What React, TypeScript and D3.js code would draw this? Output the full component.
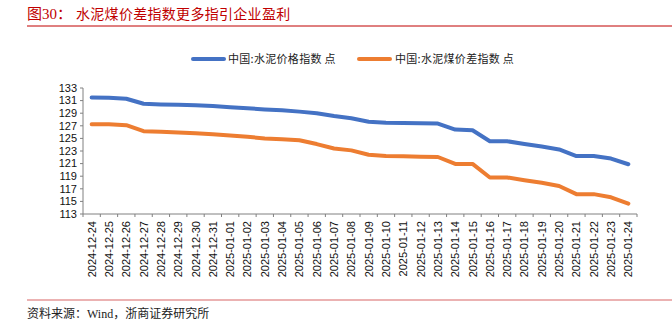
import React from "react";
import * as d3 from "d3";

const dates = [
  "2024-12-24","2024-12-25","2024-12-26","2024-12-27","2024-12-28","2024-12-29","2024-12-30","2024-12-31",
  "2025-01-01","2025-01-02","2025-01-03","2025-01-04","2025-01-05","2025-01-06","2025-01-07","2025-01-08",
  "2025-01-09","2025-01-10","2025-01-11","2025-01-12","2025-01-13","2025-01-14","2025-01-15","2025-01-16",
  "2025-01-17","2025-01-18","2025-01-19","2025-01-20","2025-01-21","2025-01-22","2025-01-23","2025-01-24",
];
const cementPrice = [
  131.5,131.45,131.3,130.5,130.4,130.35,130.25,130.15,129.95,129.8,129.6,129.45,129.25,129.0,128.55,128.2,
  127.65,127.5,127.45,127.4,127.35,126.4,126.3,124.55,124.55,124.1,123.7,123.25,122.2,122.2,121.8,120.9,
];
const cementCoalSpread = [
  127.25,127.25,127.1,126.15,126.05,125.95,125.8,125.65,125.45,125.25,125.0,124.85,124.7,124.1,123.4,123.1,
  122.4,122.2,122.15,122.1,122.05,120.95,120.95,118.8,118.8,118.35,117.95,117.45,116.15,116.15,115.65,114.65,
];
const yTicks = [113,115,117,119,121,123,125,127,129,131,133];
const seriesNames = ["中国:水泥价格指数 点", "中国:水泥煤价差指数 点"];
const title = "水泥煤价差指数更多指引企业盈利";
const figLabel = "图30：";
const source = "资料来源：Wind，浙商证券研究所";

const BLUE = "#4472C4";
const ORANGE = "#ED7D31";
const RED = "#C00000";

export default function App() {
  const x = d3.scaleBand<string>().domain(dates).range([83, 637]).paddingInner(0).paddingOuter(0);
  const y = d3.scaleLinear().domain([113, 133]).range([214, 88]);
  const cx = (d: string) => (x(d) as number) + x.bandwidth() / 2;
  const line = d3.line<number>().x((_, i) => cx(dates[i])).y((v) => y(v));
  const axisColor = "#808080";
  const font = "'Liberation Sans', Arial, sans-serif";
  const cjk = "'Noto Sans CJK SC', 'Liberation Sans', sans-serif";
  const serifMix = "'Liberation Serif', 'Noto Sans CJK SC', serif";
  const boundaries = dates.map((d) => x(d) as number).concat([637]);

  return (
    <svg width={672} height={329} style={{ position: "absolute", left: 0, top: 0, background: "#fff" }}>
      {/* Title */}
      <text x={27} y={19} fontFamily={serifMix} fontSize={15} fill={RED}>{figLabel}</text>
      <text x={76} y={19} fontFamily={cjk} fontSize={14} fill={RED} letterSpacing={0.3}>{title}</text>
      <line x1={27} x2={672} y1={26} y2={26} stroke={RED} strokeWidth={1} />

      {/* Legend */}
      <line x1={193} x2={224} y1={59} y2={59} stroke={BLUE} strokeWidth={4} strokeLinecap="round" />
      <text x={228} y={63} fontFamily={cjk} fontSize={11} fill="#222" letterSpacing={0.3}>{seriesNames[0]}</text>
      <line x1={359} x2={390} y1={59} y2={59} stroke={ORANGE} strokeWidth={4} strokeLinecap="round" />
      <text x={395} y={63} fontFamily={cjk} fontSize={11} fill="#222" letterSpacing={0.3}>{seriesNames[1]}</text>

      {/* Y axis */}
      <line x1={83} x2={83} y1={y(133)} y2={y(113)} stroke={axisColor} />
      {yTicks.map((t) => (
        <g key={t}>
          <line x1={80} x2={83} y1={y(t)} y2={y(t)} stroke={axisColor} />
          <text x={77} y={y(t)} dy="0.35em" textAnchor="end" fontFamily={font} fontSize={11} fill="#111">{t}</text>
        </g>
      ))}

      {/* X axis */}
      <line x1={83} x2={637} y1={214} y2={214} stroke={axisColor} />
      {boundaries.map((b, i) => (
        <line key={i} x1={b} x2={b} y1={214} y2={217} stroke={axisColor} />
      ))}
      {dates.map((d) => (
        <text
          key={d}
          transform={`translate(${cx(d) + 4},${221}) rotate(-90)`}
          textAnchor="end"
          fontFamily={font}
          fontSize={11}
          fill="#111"
        >
          {d}
        </text>
      ))}

      {/* Lines */}
      <path d={line(cementPrice) || ""} fill="none" stroke={BLUE} strokeWidth={4} strokeLinejoin="round" strokeLinecap="round" />
      <path d={line(cementCoalSpread) || ""} fill="none" stroke={ORANGE} strokeWidth={4} strokeLinejoin="round" strokeLinecap="round" />

      {/* Footer */}
      <line x1={27} x2={672} y1={300} y2={300} stroke="#D04040" strokeWidth={1} opacity={0.8} />
      <text x={27} y={318} fontFamily={serifMix} fontSize={12} fill="#222">{source}</text>
    </svg>
  );
}
